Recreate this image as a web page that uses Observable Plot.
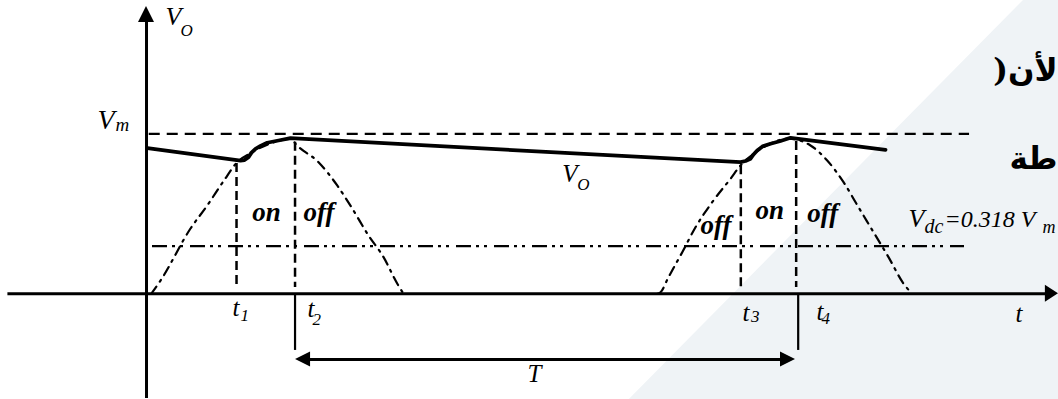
<!DOCTYPE html>
<html>
<head>
<meta charset="utf-8">
<script src="https://cdn.jsdelivr.net/npm/d3@7"></script>
<script src="https://cdn.jsdelivr.net/npm/@observablehq/plot@0.6"></script>
<style>
  html, body { margin: 0; padding: 0; overflow: hidden; background: white; }
</style>
</head>
<body>
<div id="chart"></div>
<script>
// ---- data (t in periods, v in units of Vm) ----
const Vm = 1;
const VdcDrawn = 0.2975;           // where the dash-dot Vdc line is drawn
const vdcLabelValue = "0.318";

// output voltage V_O (solid) : read points
const voT = [0.000, 0.1845, 0.1925, 0.2004, 0.2063, 0.2143, 0.2242, 0.2375, 0.2599, 0.2837,
             1.1766, 1.1865, 1.1964, 1.2024, 1.2097, 1.2202, 1.2361, 1.256, 1.2758, 1.4643];
const voV = [0.910, 0.833, 0.836, 0.854, 0.8825, 0.906, 0.924, 0.944, 0.958, 0.9725,
             0.8225, 0.830, 0.844, 0.871, 0.896, 0.921, 0.9375, 0.955, 0.975, 0.900];

// rectified sine humps (dash-dot) : read points
const hump1T = [0.0073, 0.0258, 0.0853, 0.1185, 0.1508, 0.178, 0.205, 0.240, 0.2857, 0.2937, 0.3393, 0.3764, 0.4062, 0.4385, 0.4683, 0.4954, 0.508];
const hump1V = [0.000, 0.083, 0.408, 0.552, 0.704, 0.8225, 0.880, 0.935, 0.968, 0.9375, 0.8225, 0.677, 0.533, 0.364, 0.229, 0.064, 0.000];
const hump2T = [1.0119, 1.0179, 1.0337, 1.061, 1.0873, 1.1204, 1.1567, 1.1766, 1.2063, 1.2361, 1.2718, 1.3155, 1.3486, 1.381, 1.4107, 1.4405, 1.4702, 1.500, 1.5139];
const hump2V = [0.000, 0.010, 0.104, 0.260, 0.416, 0.5725, 0.719, 0.802, 0.883, 0.939, 0.970, 0.927, 0.833, 0.6975, 0.541, 0.385, 0.229, 0.064, 0.010];

// time instants t1..t4
const timeNames = ["1", "2", "3", "4"];
const timeValues = [0.1766, 0.2927, 1.1772, 1.287];
const dashedTops = [0.814, 0.9475, 0.800, 0.952];

// state labels
const stateTexts = ["on", "off", "off", "on", "off"];
const stateT = [0.2077, 0.3095, 1.0972, 1.2063, 1.309];
const stateV = [0.458, 0.458, 0.375, 0.469, 0.4475];

// ---- layout constants (not data) ----
const W = 1058, H = 399;
const xDomain = [-0.2917, 1.8075];
const yDomain = [-0.6606, 1.833];
const serif = "'Times New Roman', 'Liberation Serif', serif";
const arabicFont = "'DejaVu Serif', 'DejaVu Sans', 'Noto Sans', sans-serif";

const voData = voT.map((t, i) => ({t, v: voV[i]}));
const h1 = hump1T.map((t, i) => ({t, v: hump1V[i]}));
const h2 = hump2T.map((t, i) => ({t, v: hump2V[i]}));
const times = timeValues.map((t, i) => ({name: timeNames[i], t, top: dashedTops[i]}));
const states = stateTexts.map((s, i) => ({s, t: stateT[i], v: stateV[i]}));

const axisX = -0.002;
const yAxisTop = 1.796, yAxisBottom = -0.654;
const xAxisLeft = -0.277, xAxisRight = 1.806;
const periodY = -0.41;
const pStart = 0.2937, pEnd = 1.2857;
const belowAxis = -0.354;

function headRight(tip, y, len, half) {
  return [{x: tip - len, y1: y - half, y2: y + half}, {x: tip, y1: y, y2: y}];
}
function headLeft(tip, y, len, half) {
  return [{x: tip, y1: y, y2: y}, {x: tip + len, y1: y - half, y2: y + half}];
}
function headUp(tip, x, len, half) {
  return [{y: tip - len, x1: x - half, x2: x + half}, {y: tip, x1: x, x2: x}];
}

const mainLabels = [
  {s: "V", t: 0.0357, v: 1.678, size: 26},
  {s: "V", t: -0.0992, v: 1.033, size: 28},
  {s: "V", t: 0.8228, v: 0.6975, size: 25},
  {s: "V", t: 1.510, v: 0.416, size: 26},
  {s: "=" + vdcLabelValue + " V", t: 1.5815, v: 0.416, size: 24},
  {s: "t", t: 0.1687, v: -0.136, size: 25},
  {s: "t", t: 0.3175, v: -0.142, size: 25},
  {s: "t", t: 1.1806, v: -0.167, size: 25},
  {s: "t", t: 1.3274, v: -0.161, size: 25},
  {s: "t", t: 1.7222, v: -0.1775, size: 25},
  {s: "T", t: 0.754, v: -0.554, size: 25}
];
const subLabels = [
  {s: "O", t: 0.0655, v: 1.614, size: 17},
  {s: "m", t: -0.0635, v: 1.020, size: 19},
  {s: "O", t: 0.8526, v: 0.650, size: 17},
  {s: "dc", t: 1.5417, v: 0.3775, size: 20},
  {s: "m", t: 1.7757, v: 0.380, size: 18},
  {s: timeNames[0], t: 0.1845, v: -0.167, size: 17},
  {s: timeNames[1], t: 0.3274, v: -0.192, size: 17},
  {s: timeNames[2], t: 1.1974, v: -0.179, size: 17},
  {s: timeNames[3], t: 1.3373, v: -0.186, size: 17}
];
const arabic = [
  {s: ")لأن", t: 1.8055, v: 1.333},
  {s: "طة", t: 1.8055, v: 0.783}
];

const textMark = (data, extra) => Plot.text(data, {
  x: "t", y: "v", text: "s", textAnchor: "start", lineAnchor: "bottom",
  fontFamily: serif, fontStyle: "italic", fill: "black", ...extra
});

const chart = Plot.plot({
  width: W, height: H,
  marginTop: 0, marginRight: 0, marginBottom: 0, marginLeft: 0,
  x: {domain: xDomain, axis: null},
  y: {domain: yDomain, axis: null},
  style: {background: "white", overflow: "hidden"},
  marks: [
    // light background wedge
    Plot.areaY([{x: 0.956, y1: yDomain[0], y2: yDomain[0]}, {x: 1.738, y1: yDomain[0], y2: yDomain[1]}, {x: xDomain[1], y1: yDomain[0], y2: yDomain[1]}],
      {x: "x", y1: "y1", y2: "y2", fill: "#eff3f6"}),
    // Vm dashed
    Plot.ruleY([Vm], {x1: 0.0034, x2: 1.631, stroke: "black", strokeWidth: 2.2, strokeDasharray: "11,7"}),
    // Vdc dash-dot-dot
    Plot.ruleY([VdcDrawn], {x1: 0.0099, x2: 1.621, stroke: "black", strokeWidth: 2.2, strokeDasharray: "15,5,3,5,3,7"}),
    // vertical dashed lines at t1..t4
    Plot.ruleX(times, {x: "t", y1: "top", y2: 0.039, stroke: "black", strokeWidth: 2.5, strokeDasharray: "9,5"}),
    // sine humps dash-dot
    Plot.line(h1, {x: "t", y: "v", curve: "monotone-x", stroke: "black", strokeWidth: 2.2, strokeDasharray: "9,6,2,6"}),
    Plot.line(h2, {x: "t", y: "v", curve: "monotone-x", stroke: "black", strokeWidth: 2.2, strokeDasharray: "9,6,2,6"}),
    // output voltage
    Plot.line(voData, {x: "t", y: "v", curve: "linear", stroke: "black", strokeWidth: 3.8, strokeLinejoin: "round"}),
    // axes
    Plot.ruleY([0], {x1: xAxisLeft, x2: xAxisRight - 0.02, stroke: "black", strokeWidth: 3}),
    Plot.ruleX([axisX], {y1: yAxisBottom, y2: yAxisTop - 0.08, stroke: "black", strokeWidth: 3}),
    Plot.areaY(headRight(xAxisRight + 0.0015, 0, 0.026, 0.053), {x: "x", y1: "y1", y2: "y2", fill: "black"}),
    Plot.areaX(headUp(yAxisTop, axisX, 0.1, 0.0159), {y: "y", x1: "x1", x2: "x2", fill: "black"}),
    // period T
    Plot.ruleX([timeValues[1], timeValues[3] + 0.004], {y1: 0, y2: belowAxis, stroke: "black", strokeWidth: 2.2}),
    Plot.ruleY([periodY], {x1: pStart + 0.02, x2: pEnd - 0.02, stroke: "black", strokeWidth: 3}),
    Plot.areaY(headLeft(pStart, periodY, 0.0298, 0.047), {x: "x", y1: "y1", y2: "y2", fill: "black"}),
    Plot.areaY(headRight(pEnd, periodY, 0.0298, 0.047), {x: "x", y1: "y1", y2: "y2", fill: "black"}),
    // labels
    ...mainLabels.map(d => textMark([d], {fontSize: d.size})),
    ...subLabels.map(d => textMark([d], {fontSize: d.size})),
    textMark(states, {fontSize: 27, fontWeight: "bold"}),
    ...arabic.map(d => Plot.text([d], {x: "t", y: "v", text: "s", textAnchor: "end", lineAnchor: "bottom",
      fontFamily: arabicFont, fontWeight: "bold", fontSize: 31, fill: "black"}))
  ]
});
document.getElementById("chart").appendChild(chart);
</script>
</body>
</html>
